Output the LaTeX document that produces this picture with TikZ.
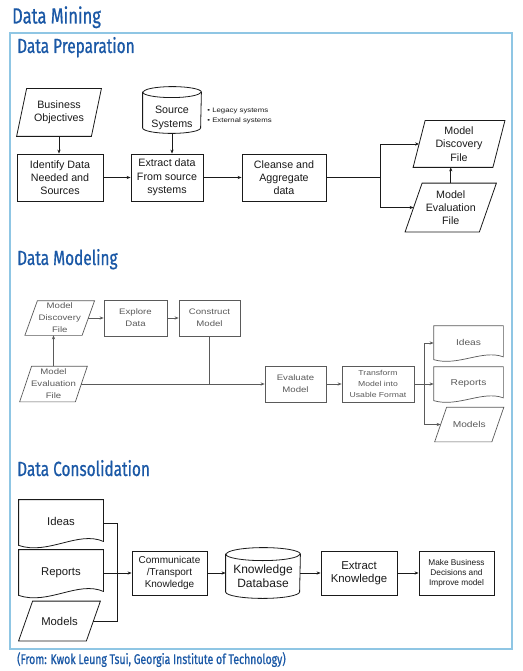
\documentclass[tikz,border=0pt]{standalone}
\usepackage{fontspec}
\setmainfont{Liberation Sans}
\newfontfamily\headfont[FakeStretch=0.75,FakeBold=0.7]{Fira Sans}
\newfontfamily\widefont[FakeStretch=1.2]{Liberation Sans}
\usetikzlibrary{arrows.meta,calc}
\definecolor{titleblue}{HTML}{1A58A6}
\definecolor{frameblue}{HTML}{8FC6E4}
\definecolor{inkdark}{HTML}{1A1A1A}
\definecolor{inkgray}{HTML}{5A5A5A}
\newcommand\fPrep{\fontsize{10.7}{13.3}\selectfont}
\newcommand\fBul{\widefont\fontsize{6.5}{10}\selectfont}
\newcommand\fMod{\widefont\fontsize{8}{12}\selectfont}
\newcommand\fModS{\widefont\fontsize{7.2}{11}\selectfont}
\newcommand\fCons{\fontsize{11.3}{13}\selectfont}
\newcommand\fCom{\fontsize{10}{12}\selectfont}
\newcommand\fKdb{\fontsize{12}{14}\selectfont}
\newcommand\fExk{\fontsize{11.4}{13}\selectfont}
\newcommand\fMbd{\fontsize{8.3}{10}\selectfont}
\newcommand\drawpara[3][]{\draw[#1] ([xshift=#3pt]#2.north west) -- ([xshift=#3pt]#2.north east) -- ([xshift=-#3pt]#2.south east) -- ([xshift=-#3pt]#2.south west) -- cycle;}
\newcommand\drawdoc[3][]{\draw[#1] (#2.north west) -- (#2.north east) -- ($(#2.south east)+(0,-0.5*#3)$) .. controls ($(#2.south west)!0.7!(#2.south east)+(0,-1.6*#3)$) and ($(#2.south west)!0.35!(#2.south east)+(0,0.9*#3)$) .. ($(#2.south west)+(0,-0.1*#3)$) -- cycle;}
\newcommand\drawcyl[4][]{\draw[#1] ([yshift=-#4pt]#2.north west) -- ([yshift=#4pt]#2.south west) arc[start angle=180,end angle=360,x radius=#3pt,y radius=#4pt] -- ([yshift=-#4pt]#2.north east) arc[start angle=0,end angle=180,x radius=#3pt,y radius=#4pt] -- cycle;
\draw[#1] ([yshift=-#4pt]#2.north west) arc[start angle=180,end angle=360,x radius=#3pt,y radius=#4pt];}
\begin{document}
\begin{tikzpicture}[x=1pt,y=-1pt,
  shapebox/.style={rectangle,inner sep=0pt,align=center},
  box/.style={shapebox,draw},
  arr/.style={-{Stealth[length=4pt,width=3.2pt]}},
  title/.style={anchor=base west,inner sep=0pt,text=titleblue,font=\headfont\fontsize{20.5}{24}\selectfont},
  prep/.style={inkdark,line width=0.8pt,text=inkdark,font=\fPrep},
  modl/.style={inkgray,line width=0.7pt,text=inkgray,font=\fMod},
  cons/.style={inkdark,line width=0.8pt,text=inkdark}]
\useasboundingbox (0,0) rectangle (522,671);
\fill[white] (0,0) rectangle (522,671);
\draw[frameblue,line width=2pt] (10,33) rectangle (512,649);
\node[title,font=\headfont\fontsize{22}{26}\selectfont] (tmain) at (12,23.5) {Data Mining};
\node[title] (tprep) at (17,53) {Data Preparation};
\node[title] (tmod) at (17,265) {Data Modeling};
\node[title] (tcons) at (17,476) {Data Consolidation};
\node[title,font=\headfont\fontsize{14}{16}\selectfont] (tcite) at (17,664) {(From: Kwok Leung Tsui, Georgia Institute of Technology)};
% ---------- Data Preparation
\begin{scope}[prep]
\node[shapebox,minimum width=74pt,minimum height=47pt] (bo) at (59,112.5) {Business\\Objectives};
\drawpara{bo}{5}
\node[box,minimum width=86pt,minimum height=47pt] (idn) at (60,177.5) {Identify Data\\Needed and\\Sources};
\node[shapebox,minimum width=58pt,minimum height=46pt] (src) at (172,110) {};
\drawcyl{src}{29}{5.5}
\node[shapebox] (srct) at (172,118) {Source\\Systems};
\node[anchor=west,align=left,inner sep=0pt,font=\fBul] (bul) at (207,116) {• Legacy systems\\• External systems};
\node[box,minimum width=72pt,minimum height=47pt] (ext) at (167,177.5) {Extract data\\From source\\systems};
\node[box,minimum width=84pt,minimum height=47pt] (cln) at (284,177.5) {Cleanse and\\Aggregate\\data};
\node[shapebox,minimum width=79pt,minimum height=46pt] (mdf) at (459,144) {Model\\Discovery\\File};
\drawpara{mdf}{6}
\node[shapebox,minimum width=73.5pt,minimum height=48pt] (mef) at (450.75,207.5) {Model\\Evaluation\\File};
\drawpara{mef}{8.5}
\coordinate (br1) at (380,177.5);
\draw[arr] (bo.south) -- (bo.south |- idn.north);
\draw[arr] (src.south) -- (src.south |- ext.north);
\draw[arr] (idn) -- (ext);
\draw[arr] (ext) -- (cln);
\draw (cln.east) -- (br1);
\draw[arr] (br1) |- (mdf.west);
\draw[arr] (br1) |- (mef.west);
\draw[arr] (mef.north) -- (mef.north |- mdf.south);
\end{scope}
% ---------- Data Modeling
\begin{scope}[modl]
\node[shapebox,minimum width=56.5pt,minimum height=34pt] (mdf2) at (59.75,318) {Model\\Discovery\\File};
\drawpara{mdf2}{6.25}
\node[shapebox,minimum width=55pt,minimum height=35pt] (mef2) at (53.5,384) {Model\\Evaluation\\File};
\drawpara{mef2}{6}
\node[box,minimum width=63pt,minimum height=36pt] (exp) at (135.5,318) {Explore\\Data};
\node[box,minimum width=61pt,minimum height=36pt] (con) at (209.5,318) {Construct\\Model};
\node[box,minimum width=61pt,minimum height=36pt] (eva) at (295.5,384) {Evaluate\\Model};
\node[box,minimum width=72pt,minimum height=36pt,font=\fModS] (trf) at (378,384) {Transform\\Model into\\Usable Format};
\node[shapebox,minimum width=69pt,minimum height=34pt,font=\widefont\fontsize{8.5}{10}\selectfont] (ideas2) at (468.5,343) {\raisebox{2pt}{Ideas}};
\drawdoc{ideas2}{7}
\node[shapebox,minimum width=69pt,minimum height=34pt,font=\widefont\fontsize{8.5}{10}\selectfont] (rep2) at (468.5,384) {\raisebox{2.5pt}{Reports}};
\drawdoc{rep2}{7}
\node[shapebox,minimum width=56.5pt,minimum height=34pt,font=\widefont\fontsize{8.5}{10}\selectfont] (mod2) at (469.25,424.5) {Models};
\drawpara{mod2}{6}
\coordinate (br2) at (424,384);
\coordinate (jn) at (con.south |- mef2.east);
\draw[arr] (mdf2.east) -- (exp.west);
\draw[arr] (exp) -- (con);
\draw[arr] (mef2.north) -- (mef2.north |- mdf2.south);
\draw (con.south) -- (jn);
\draw[arr] (mef2.east) -- (eva.west);
\draw[arr] (eva) -- (trf);
\draw (trf.east) -- (br2);
\draw[arr] (br2) |- (ideas2.west);
\draw[arr] (br2) -- (rep2.west);
\draw[arr] (br2) |- (mod2.west);
\end{scope}
% ---------- Data Consolidation
\begin{scope}[cons]
\node[shapebox,minimum width=84pt,minimum height=46pt,font=\fCons] (ideas3) at (61,523) {\raisebox{3.5pt}{Ideas}};
\drawdoc{ideas3}{10}
\node[shapebox,minimum width=84pt,minimum height=46pt,font=\fCons] (rep3) at (61,573) {\raisebox{3.5pt}{Reports}};
\drawdoc{rep3}{10}
\node[shapebox,minimum width=67pt,minimum height=39pt,font=\fCons] (mod3) at (59.5,621) {Models};
\drawpara{mod3}{7}
\node[box,minimum width=75pt,minimum height=44pt,font=\fCom] (com) at (169.5,573) {Communicate\\/Transport\\Knowledge};
\node[shapebox,minimum width=74pt,minimum height=50pt] (kdb) at (263,573) {};
\drawcyl{kdb}{37}{6.5}
\node[shapebox,font=\fKdb] (kdbt) at (263,576.5) {Knowledge\\Database};
\node[box,minimum width=76pt,minimum height=44pt,font=\fExk] (exk) at (359,573) {Extract\\Knowledge};
\node[box,minimum width=75pt,minimum height=44pt,font=\fMbd] (mbd) at (456.5,573) {Make Business\\Decisions and\\Improve model};
\coordinate (br3) at (117,573);
\draw (ideas3.east) -| (br3);
\draw (mod3.east) -| (br3);
\draw[arr] (rep3.east) -- (com.west);
\draw[arr] (com) -- (kdb);
\draw[arr] (kdb) -- (exk);
\draw[arr] (exk) -- (mbd);
\end{scope}
\end{tikzpicture}
\end{document}
